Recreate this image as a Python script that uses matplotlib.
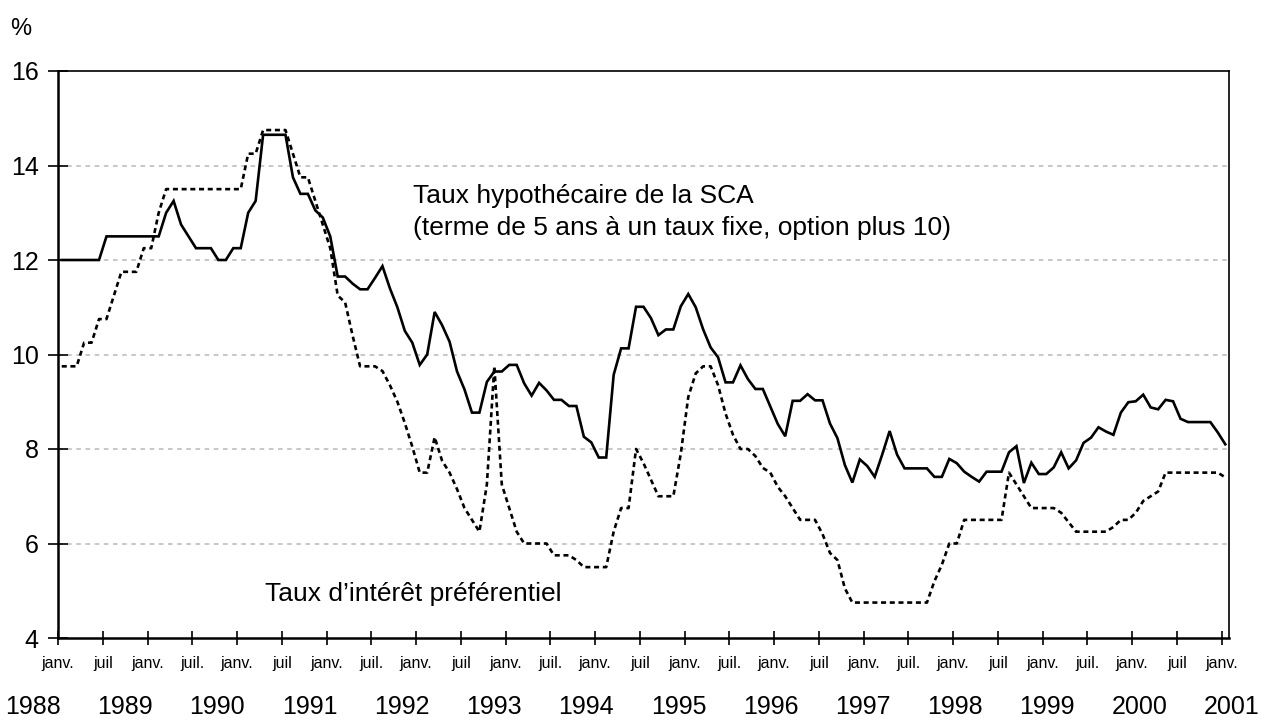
import numpy as np
import matplotlib
matplotlib.use("Agg")
import matplotlib.pyplot as plt

# Monthly series, Jan 1988 .. Jan 2001 (157 months)
mortgage = [
    12.0, 12.0, 12.0, 12.0, 12.0, 12.0, 12.5, 12.5, 12.5, 12.5, 12.5, 12.5,       # 1988
    12.5, 12.5, 13.0, 13.25, 12.75, 12.5, 12.25, 12.25, 12.25, 12.0, 12.0, 12.25,  # 1989
    12.25, 13.0, 13.25, 14.65, 14.65, 14.65, 14.65, 13.75, 13.4, 13.4, 13.05, 12.9,  # 1990
    12.5, 11.65, 11.65, 11.5, 11.38, 11.38, 11.62, 11.87, 11.4, 11.0, 10.5, 10.25,  # 1991
    9.78, 10.0, 10.9, 10.62, 10.27, 9.64, 9.26, 8.77, 8.77, 9.42, 9.64, 9.64,      # 1992
    9.78, 9.78, 9.39, 9.13, 9.4, 9.24, 9.04, 9.04, 8.91, 8.91, 8.26, 8.14,         # 1993
    7.82, 7.82, 9.57, 10.13, 10.13, 11.01, 11.01, 10.77, 10.41, 10.53, 10.53, 11.02,  # 1994
    11.28, 11.0, 10.53, 10.15, 9.94, 9.41, 9.41, 9.77, 9.48, 9.27, 9.27, 8.9,      # 1995
    8.53, 8.27, 9.02, 9.02, 9.16, 9.03, 9.03, 8.54, 8.23, 7.66, 7.29, 7.78,        # 1996
    7.64, 7.41, 7.88, 8.38, 7.88, 7.59, 7.59, 7.59, 7.59, 7.41, 7.41, 7.79,        # 1997
    7.7, 7.52, 7.41, 7.31, 7.52, 7.52, 7.52, 7.93, 8.06, 7.28, 7.71, 7.47,         # 1998
    7.47, 7.61, 7.93, 7.59, 7.76, 8.13, 8.24, 8.46, 8.37, 8.3, 8.77, 8.99,         # 1999
    9.01, 9.15, 8.88, 8.84, 9.04, 9.01, 8.64, 8.57, 8.57, 8.57, 8.57, 8.35,        # 2000
    8.1,                                                                           # 2001
]

prime = [
    9.75, 9.75, 9.75, 10.25, 10.25, 10.75, 10.75, 11.25, 11.75, 11.75, 11.75, 12.25,  # 1988
    12.25, 13.0, 13.5, 13.5, 13.5, 13.5, 13.5, 13.5, 13.5, 13.5, 13.5, 13.5,          # 1989
    13.5, 14.25, 14.25, 14.75, 14.75, 14.75, 14.75, 14.25, 13.75, 13.75, 13.25, 12.75,  # 1990
    12.25, 11.25, 11.1, 10.4, 9.75, 9.75, 9.75, 9.65, 9.35, 9.0, 8.55, 8.05,          # 1991
    7.5, 7.5, 8.25, 7.75, 7.5, 7.15, 6.75, 6.5, 6.25, 7.25, 9.75, 7.25,               # 1992
    6.75, 6.25, 6.0, 6.0, 6.0, 6.0, 5.75, 5.75, 5.75, 5.65, 5.5, 5.5,                 # 1993
    5.5, 5.5, 6.25, 6.75, 6.75, 8.0, 7.7, 7.35, 7.0, 7.0, 7.0, 7.9,                   # 1994
    9.1, 9.6, 9.75, 9.75, 9.35, 8.75, 8.3, 8.0, 8.0, 7.85, 7.6, 7.5,                  # 1995
    7.2, 7.0, 6.75, 6.5, 6.5, 6.5, 6.2, 5.8, 5.65, 5.05, 4.75, 4.75,                  # 1996
    4.75, 4.75, 4.75, 4.75, 4.75, 4.75, 4.75, 4.75, 4.75, 5.2, 5.55, 6.0,             # 1997
    6.0, 6.5, 6.5, 6.5, 6.5, 6.5, 6.5, 7.5, 7.25, 7.0, 6.75, 6.75,                    # 1998
    6.75, 6.75, 6.65, 6.45, 6.25, 6.25, 6.25, 6.25, 6.25, 6.35, 6.5, 6.5,             # 1999
    6.65, 6.9, 7.0, 7.1, 7.5, 7.5, 7.5, 7.5, 7.5, 7.5, 7.5, 7.5,                      # 2000
    7.4,                                                                              # 2001
]

month_labels = ["janv.", "juil", "janv.", "juil.", "janv.", "juil", "janv.", "juil.",
                "janv.", "juil", "janv.", "juil.", "janv.", "juil", "janv.", "juil.",
                "janv.", "juil", "janv.", "juil.", "janv.", "juil", "janv.", "juil.",
                "janv.", "juil", "janv."]
years = ["1988", "1989", "1990", "1991", "1992", "1993", "1994", "1995",
         "1996", "1997", "1998", "1999", "2000", "2001"]

plt.rcParams["font.family"] = ["Liberation Sans", "DejaVu Sans"]

W, H = 1261, 724
fig = plt.figure(figsize=(W / 100, H / 100), dpi=100)
ax = fig.add_axes([58 / W, 1 - 638 / H, (1229 - 58) / W, (638 - 71) / H])

n = len(mortgage)
x = np.arange(n) + 0.5
ax.plot(x, mortgage, color="black", lw=1.9, solid_joinstyle="miter", zorder=3)
ax.plot(x, prime, color="black", lw=1.9, linestyle=(0, (1.9, 1.4)),
        dash_capstyle="butt", zorder=3)

ax.set_xlim(0, n)
ax.set_ylim(4, 16)
ax.set_yticks(range(4, 17, 2))
ax.set_xticks(np.arange(0, n, 6))
ax.set_xticklabels(month_labels, family=["Liberation Sans Narrow", "Liberation Sans"],
                   fontsize=11.5)
ax.tick_params(axis="y", direction="inout", length=14, width=1.2, labelsize=18, pad=7)
ax.tick_params(axis="x", direction="inout", length=10, width=1.2, pad=8)

for v in range(6, 16, 2):
    ax.axhline(v, color="#b8b8b8", lw=1.1, linestyle=(0, (3, 3)), zorder=1)

for side in ["left", "bottom"]:
    ax.spines[side].set_linewidth(1.8)
for side in ["top", "right"]:
    ax.spines[side].set_linewidth(1.2)

ax.text(47.6, 13.35, "Taux hypothécaire de la SCA", fontsize=19, va="center")
ax.text(47.6, 12.68, "(terme de 5 ans à un taux fixe, option plus 10)",
        fontsize=19, va="center")
ax.text(27.7, 4.93, "Taux d’intérêt préférentiel", fontsize=19, va="center")

fig.text(21 / W, 1 - 29 / H, "%", fontsize=17, ha="center", va="center")

for i, yr in enumerate(years):
    fig.text((33 + i * 92.2) / W, 1 - 707 / H, yr, fontsize=18, ha="center", va="center")

fig.savefig("out.png", dpi=100)
